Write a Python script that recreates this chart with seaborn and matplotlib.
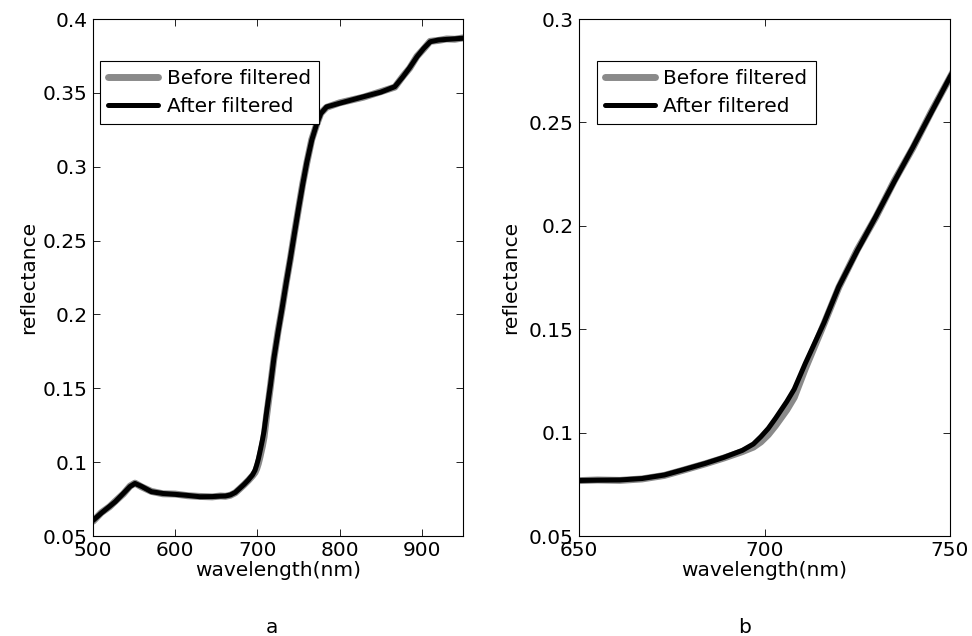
import matplotlib
matplotlib.use("Agg")
import matplotlib.pyplot as plt
from matplotlib.ticker import FormatStrFormatter
import seaborn as sns
import pandas as pd

# reflectance spectrum
wavelength = [500, 510, 520, 527, 537, 545, 551, 559, 571, 585, 600, 615, 630, 645,
              655, 661, 667, 673, 678, 684, 689, 694, 697, 699, 701, 703, 706, 708,
              711, 716, 720, 725, 730, 735, 740, 745, 750, 755, 760, 766, 772, 777,
              784, 800, 829, 850, 867, 877, 885, 894, 902, 910, 920, 930, 940, 950]
after_filtered = [0.0605, 0.0655, 0.0700, 0.0732, 0.0789, 0.0835, 0.0856, 0.0836,
                  0.0800, 0.0788, 0.0782, 0.0775, 0.0766, 0.0767, 0.0770, 0.0771,
                  0.0778, 0.0795, 0.0820, 0.0851, 0.0880, 0.0914, 0.0945, 0.0980,
                  0.1020, 0.1070, 0.1150, 0.1210, 0.1335, 0.1530, 0.1705, 0.1880,
                  0.2045, 0.2215, 0.2380, 0.2550, 0.2720, 0.2880, 0.3030, 0.3180,
                  0.3290, 0.3360, 0.3405, 0.3430, 0.3474, 0.3505, 0.3542, 0.3610,
                  0.3670, 0.3745, 0.3800, 0.3846, 0.3858, 0.3862, 0.3866, 0.3870]
before_filtered = [0.0600, 0.0658, 0.0698, 0.0735, 0.0786, 0.0838, 0.0858, 0.0833,
                   0.0802, 0.0786, 0.0784, 0.0773, 0.0768, 0.0765, 0.0771, 0.0769,
                   0.0776, 0.0793, 0.0818, 0.0849, 0.0877, 0.0908, 0.0930, 0.0955,
                   0.0990, 0.1035, 0.1110, 0.1170, 0.1310, 0.1525, 0.1702, 0.1884,
                   0.2042, 0.2218, 0.2377, 0.2553, 0.2718, 0.2884, 0.3027, 0.3184,
                   0.3287, 0.3362, 0.3402, 0.3433, 0.3471, 0.3508, 0.3539, 0.3613,
                   0.3667, 0.3748, 0.3797, 0.3849, 0.3855, 0.3865, 0.3863, 0.3872]

series_names = ["Before filtered", "After filtered"]
panel_labels = ["a", "b"]
xlims = [(500, 950), (650, 750)]
ylims = [(0.05, 0.4), (0.05, 0.3)]
xticks = [[500, 600, 700, 800, 900], [650, 700, 750]]
yticks = [[0.05, 0.1, 0.15, 0.2, 0.25, 0.3, 0.35, 0.4],
          [0.05, 0.1, 0.15, 0.2, 0.25, 0.3]]

df = pd.concat([
    pd.DataFrame({"wavelength": wavelength, "reflectance": before_filtered,
                  "series": series_names[0]}),
    pd.DataFrame({"wavelength": wavelength, "reflectance": after_filtered,
                  "series": series_names[1]}),
])

sns.set_style("ticks", {"xtick.direction": "in", "ytick.direction": "in",
                        "axes.edgecolor": "black", "text.color": "black",
                        "axes.labelcolor": "black", "xtick.color": "black",
                        "ytick.color": "black"})
plt.rcParams["font.family"] = ["DejaVu Sans"]
plt.rcParams["xtick.top"] = True
plt.rcParams["ytick.right"] = True

colors = {"Before filtered": "#8a8a8a", "After filtered": "black"}
widths = {"Before filtered": 5.0, "After filtered": 3.6}

fig = plt.figure(figsize=(9.72, 6.36), dpi=100)
axes_rects = [[0.0957, 0.1572, 0.3807, 0.8129], [0.5957, 0.1572, 0.3817, 0.8129]]
legend_x = [0.019, 0.0485]
ylabel_x = [-0.149, -0.160]
panel_x = [272 / 972, 745 / 972]

for i, rect in enumerate(axes_rects):
    ax = fig.add_axes(rect)
    for name in series_names:
        sub = df[df["series"] == name]
        sns.lineplot(data=sub, x="wavelength", y="reflectance", ax=ax,
                     color=colors[name], linewidth=widths[name], label=name,
                     estimator=None, sort=False)
    ax.set_xlim(*xlims[i])
    ax.set_ylim(*ylims[i])
    ax.set_xticks(xticks[i])
    ax.set_yticks(yticks[i])
    ax.yaxis.set_major_formatter(FormatStrFormatter("%g"))
    ax.tick_params(axis="both", which="major", labelsize=14.5, length=5,
                   width=0.6, color="black", labelcolor="black")
    ax.tick_params(axis="x", pad=3.5)
    ax.tick_params(axis="y", pad=4)
    for sp in ax.spines.values():
        sp.set_visible(True)
        sp.set_linewidth(0.8)
        sp.set_color("black")

    ax.set_xlabel("wavelength(nm)", fontsize=14.5)
    ax.set_ylabel("reflectance", fontsize=14.5)
    ax.xaxis.set_label_coords(0.5, -0.049)
    ax.yaxis.set_label_coords(ylabel_x[i], 0.5)

    leg = ax.legend(loc="upper left", bbox_to_anchor=(legend_x[i], 0.919),
                    borderaxespad=0, fontsize=14.5, handlelength=2.5,
                    handletextpad=0.4, labelspacing=0.45, borderpad=0.4,
                    fancybox=False, framealpha=1, edgecolor="black")
    leg.get_frame().set_linewidth(0.8)

    fig.text(panel_x[i], 0.005, panel_labels[i], fontsize=14.5,
             ha="center", va="baseline")

fig.savefig("out.png", dpi=100)
